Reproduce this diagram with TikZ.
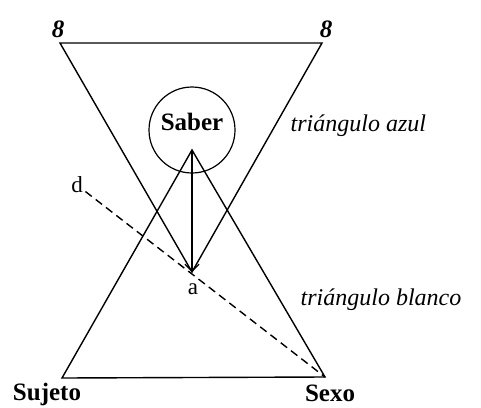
\documentclass[tikz,border=0pt]{standalone}
\usepackage{fontspec}
\setmainfont{Liberation Serif}
\usetikzlibrary{arrows.meta}
\begin{document}
\begin{tikzpicture}[x=1pt,y=-1pt, line width=1.4pt,
  lbl/.style={inner sep=0pt, font=\fontsize{25}{28}\selectfont\bfseries},
  sym/.style={inner sep=0pt, font=\fontsize{25}{28}\selectfont\bfseries\itshape},
  itl/.style={inner sep=0pt, anchor=west, font=\fontsize{24}{28}\selectfont\itshape},
  sml/.style={inner sep=2pt, font=\fontsize{23}{26}\selectfont},
  dashline/.style={dash pattern=on 8pt off 5pt, line width=1.4pt}]
\useasboundingbox (0,0) rectangle (481,407);
\coordinate (TL) at (60,43);
\coordinate (TR) at (322,43);
\coordinate (A) at (192,272);
\coordinate (BL) at (62,378);
\coordinate (BR) at (325,377);
\coordinate (P) at (192,150);
\draw (TL) -- (TR) -- (A) -- cycle;
\draw (BL) -- (BR) -- (P) -- cycle;
\node[circle, draw, minimum size=86pt, inner sep=0pt, line width=1.2pt,
  font=\fontsize{25}{28}\selectfont\bfseries] (saber) at (192,130) {\raisebox{0pt}[0pt][0pt]{Saber}};
\draw[line width=1.2pt, -{Straight Barb[length=7pt,width=14pt]}] (P) -- (A);
\node[sml] (d) at (77,185) {d};
\draw[dashline] (d) -- (BR);
\node[sml, inner sep=0pt] (a) at (193,289) {a};
\node[sym] (s1) at (58,29) {8};
\node[sym] (s2) at (326,29) {8};
\node[itl] (azul) at (290,126) {triángulo azul};
\node[itl] (blanco) at (300,300) {triángulo blanco};
\node[lbl] (sujeto) at (47,394) {Sujeto};
\node[lbl] (sexo) at (330,393) {Sexo};
\end{tikzpicture}
\end{document}
